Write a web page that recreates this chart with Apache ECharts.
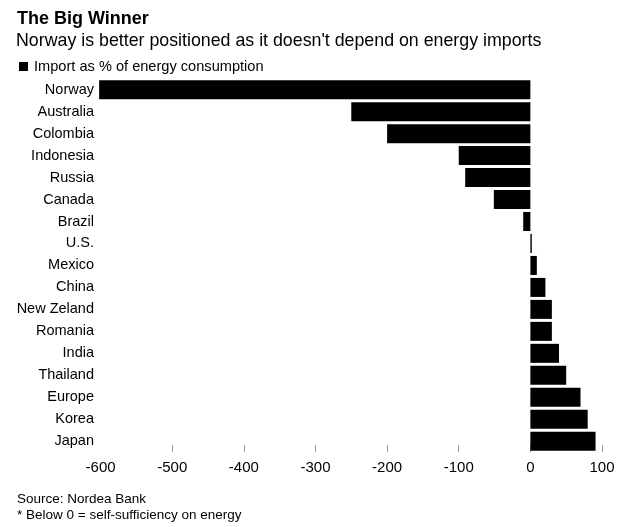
<!DOCTYPE html>
<html>
<head>
<meta charset="utf-8">
<script src="https://cdn.jsdelivr.net/npm/echarts@6/dist/echarts.min.js"></script>
<style>
html,body{margin:0;padding:0;background:#fff;}
#chart{width:628px;height:527px;}
</style>
</head>
<body>
<div id="chart"></div>
<script>
var categories = ["Norway","Australia","Colombia","Indonesia","Russia","Canada","Brazil","U.S.","Mexico","China","New Zeland","Romania","India","Thailand","Europe","Korea","Japan"];
var importShare = [-602,-250,-200,-100,-91,-51,-10,2,9,21,30,30,40,50,70,80,91];
var tickValues = [-500,-400,-300,-200,-100,0,100];
var labelValues = [-600,-500,-400,-300,-200,-100,0,100];
var seriesName = "Import as % of energy consumption";

var FONT = '"Liberation Sans", Arial, Helvetica, sans-serif';
var chart = echarts.init(document.getElementById('chart'), null, {renderer:'canvas'});
chart.setOption({
  animation:false,
  backgroundColor:'#fff',
  textStyle:{fontFamily:FONT},
  grid:{left:97,right:26,top:78.7,bottom:74.8,containLabel:false},
  legend:{
    show:true,left:19,top:59,padding:0,itemWidth:9,itemHeight:9,itemGap:0,
    icon:'rect',
    textStyle:{fontSize:14.6,color:'#000',fontFamily:FONT,padding:[0,0,0,1]},
    data:[{name:seriesName,itemStyle:{color:'#000'}}]
  },
  graphic:[
    {type:'text',left:17,top:10,style:{text:'The Big Winner',font:'bold 18px '+FONT,fill:'#000'}},
    {type:'text',left:16,top:32,style:{text:"Norway is better positioned as it doesn't depend on energy imports",font:'17.8px '+FONT,fill:'#000'}},
    {type:'text',left:17,top:492,style:{text:'Source: Nordea Bank',font:'13.5px '+FONT,fill:'#000'}},
    {type:'text',left:17,top:508,style:{text:'* Below 0 = self-sufficiency on energy',font:'13.5px '+FONT,fill:'#000'}}
  ],
  xAxis:{
    type:'value',min:-605,max:100,position:'bottom',
    axisLine:{show:false},
    splitLine:{show:false},
    axisTick:{show:true,inside:true,length:7,lineStyle:{color:'#999',width:1},customValues:tickValues},
    axisLabel:{fontSize:15,color:'#000',margin:8,fontFamily:FONT,customValues:labelValues}
  },
  yAxis:{
    type:'category',data:categories,inverse:true,
    axisLine:{show:false,onZero:false},
    axisTick:{show:false},
    splitLine:{show:false},
    axisLabel:{fontSize:14.5,color:'#000',margin:3,fontFamily:FONT}
  },
  series:[{
    name:seriesName,type:'bar',data:importShare,barWidth:19,
    itemStyle:{color:'#000'}
  }]
});
</script>
</body>
</html>
